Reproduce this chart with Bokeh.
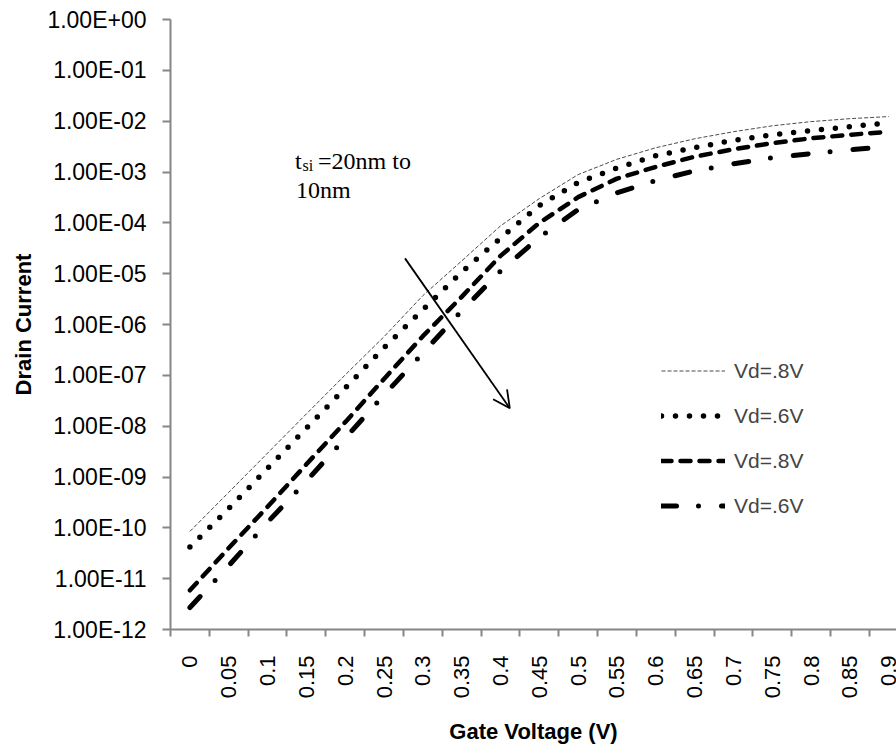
from bokeh.plotting import figure
from bokeh.models import FixedTicker, Range1d, Legend, LegendItem, Arrow, OpenHead, Label
from bokeh.embed import file_html
from bokeh.resources import INLINE

# ---------------- data ----------------
gate_voltage = [0, 0.05, 0.1, 0.15, 0.2, 0.25, 0.3, 0.35, 0.4, 0.45,
                0.5, 0.55, 0.6, 0.65, 0.7, 0.75, 0.8, 0.85, 0.9]
x_tick_labels = ["0", "0.05", "0.1", "0.15", "0.2", "0.25", "0.3", "0.35", "0.4", "0.45",
                 "0.5", "0.55", "0.6", "0.65", "0.7", "0.75", "0.8", "0.85", "0.9"]

id_20nm_vd08 = [8.5e-11, 5.0e-10, 2.95e-9, 1.74e-8, 1.02e-7, 5.75e-7, 3.7e-6, 1.78e-5, 8.7e-5, 3.0e-4,
                8.9e-4, 1.78e-3, 3.0e-3, 4.5e-3, 6.2e-3, 8.1e-3, 9.8e-3, 1.12e-2, 1.23e-2]
id_20nm_vd06 = [4.2e-11, 2.4e-10, 1.48e-9, 9.1e-9, 5.6e-8, 3.5e-7, 1.95e-6, 1.07e-5, 5.0e-5, 2.2e-4,
                6.2e-4, 1.2e-3, 2.1e-3, 3.0e-3, 4.2e-3, 5.4e-3, 6.5e-3, 7.8e-3, 9.3e-3]
id_10nm_vd08 = [5.9e-12, 4.0e-11, 2.6e-10, 1.78e-9, 1.2e-8, 8.5e-8, 5.9e-7, 3.5e-6, 2.24e-5, 1.0e-4,
                3.2e-4, 7.4e-4, 1.26e-3, 2.0e-3, 2.8e-3, 3.7e-3, 4.6e-3, 5.4e-3, 6.2e-3]
id_10nm_vd06 = [2.7e-12, 1.8e-11, 1.29e-10, 8.3e-10, 5.8e-9, 4.1e-8, 2.75e-7, 1.86e-6, 1.12e-5, 5.2e-5,
                1.82e-4, 3.9e-4, 6.8e-4, 1.05e-3, 1.45e-3, 1.9e-3, 2.3e-3, 2.75e-3, 3.15e-3]
legend_labels = ["Vd=.8V", "Vd=.6V", "Vd=.8V", "Vd=.6V"]

y_tick_values = [1e0, 1e-1, 1e-2, 1e-3, 1e-4, 1e-5, 1e-6, 1e-7, 1e-8, 1e-9, 1e-10, 1e-11, 1e-12]
y_tick_labels = ["1.00E+00", "1.00E-01", "1.00E-02", "1.00E-03", "1.00E-04", "1.00E-05", "1.00E-06",
                 "1.00E-07", "1.00E-08", "1.00E-09", "1.00E-10", "1.00E-11", "1.00E-12"]

TICK_FONT = "'Liberation Sans', Arial, sans-serif"
TITLE_FONT = "'Liberation Sans', Arial, sans-serif"
AXIS_GRAY = "#868686"

p = figure(width=896, height=748, output_backend="svg", toolbar_location=None,
           y_axis_type="log",
           x_range=Range1d(-0.025, 0.91), y_range=Range1d(1e-12, 1e0),
           min_border_left=170, min_border_right=0, min_border_top=19, min_border_bottom=119)
p.outline_line_color = None
p.xgrid.visible = False
p.ygrid.visible = False
p.background_fill_color = "white"
p.border_fill_color = "white"

# x axis: labels at category centres, tick marks between categories
minor = [v - 0.025 for v in gate_voltage] + [gate_voltage[-1] + 0.025]
p.xaxis.ticker = FixedTicker(ticks=gate_voltage, minor_ticks=minor)
p.xaxis.major_label_overrides = {v: s for v, s in zip(gate_voltage, x_tick_labels)}
p.xaxis.major_tick_out = 0
p.xaxis.major_tick_in = 0
p.xaxis.minor_tick_out = 7
p.xaxis.minor_tick_in = 0
p.xaxis.major_label_orientation = 3.14159265 / 2
p.xaxis.major_label_standoff = 19
p.xaxis.axis_label = "Gate Voltage (V)"
p.xaxis.axis_label_standoff = 18
p.xaxis.major_label_text_font_size = "22px"

# y axis
p.yaxis.ticker = FixedTicker(ticks=y_tick_values, minor_ticks=[])
p.yaxis.major_label_overrides = {v: s for v, s in zip(y_tick_values, y_tick_labels)}
p.yaxis.major_tick_out = 8
p.yaxis.major_tick_in = 0
p.yaxis.minor_tick_line_color = None
p.yaxis.major_label_standoff = 16
p.yaxis.axis_label = "Drain Current"
p.yaxis.axis_label_standoff = 8
p.yaxis.major_label_text_font_size = "23px"

for ax in (p.xaxis[0], p.yaxis[0]):
    ax.axis_line_color = AXIS_GRAY
    ax.axis_line_width = 2
    ax.major_tick_line_color = AXIS_GRAY
    ax.major_tick_line_width = 2
    ax.minor_tick_line_width = 2
    ax.major_label_text_font = TICK_FONT
    ax.major_label_text_color = "black"
    ax.axis_label_text_font = TITLE_FONT
    ax.axis_label_text_font_size = "22px"
    ax.axis_label_text_font_style = "bold"
    ax.axis_label_text_color = "black"
p.xaxis.minor_tick_line_color = AXIS_GRAY

# series
r1 = p.line(gate_voltage, id_20nm_vd08, line_color="#4a4a4a", line_width=1, line_dash="4 2")
r2 = p.line(gate_voltage, id_20nm_vd06, line_color="black", line_width=5.5, line_dash="0 14",
            line_cap="round")
r3 = p.line(gate_voltage, id_10nm_vd08, line_color="black", line_width=4.5, line_dash="10 9",
            line_cap="round")
r4 = p.line(gate_voltage, id_10nm_vd06, line_color="black", line_width=5, line_dash="15 22 0 23",
            line_cap="round")

legend = Legend(items=[LegendItem(label=l, renderers=[r]) for l, r in zip(legend_labels, [r1, r2, r3, r4])],
                location=(491, 111), padding=0, margin=0, spacing=20,
                glyph_width=64, glyph_height=25, label_height=25, label_standoff=9,
                label_text_font=TICK_FONT, label_text_font_size="21px",
                border_line_color=None, background_fill_alpha=0)
p.add_layout(legend)

# annotation: arrow and text
p.add_layout(Arrow(end=OpenHead(size=17, line_width=1.8, line_color="black"),
                   x_start=0.277, y_start=2.0e-5, x_end=0.412, y_end=2.25e-8,
                   line_width=1.8, line_color="black"))

SERIF = "'Liberation Serif', 'Times New Roman', serif"
for txt, x, y, size in [("t", 0.1353, 1.667e-3, "24px"),
                        ("si", 0.1450, 1.36e-3, "16px"),
                        ("=20nm to", 0.165, 1.667e-3, "24px"),
                        ("10nm", 0.1365, 4.49e-4, "24px")]:
    p.add_layout(Label(x=x, y=y, text=txt, text_font=SERIF, text_font_size=size,
                       text_align="left", text_baseline="alphabetic", text_color="black"))

open("out.html", "w").write(file_html(p, INLINE))
